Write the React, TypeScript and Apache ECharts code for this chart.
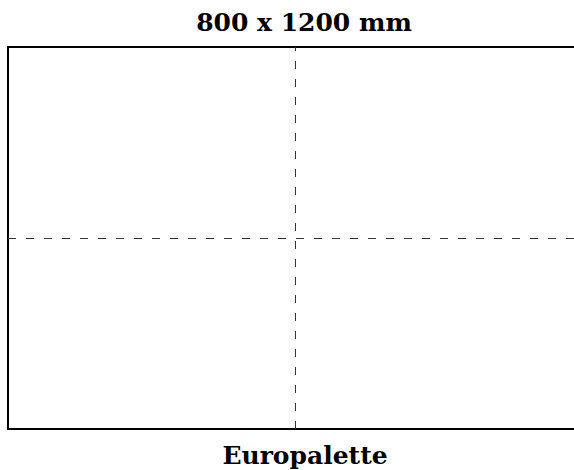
import React, { useEffect, useRef } from "react";
import * as echarts from "echarts";

const palletWidthMm = 800;
const palletLengthMm = 1200;
const palletName = "Europalette";
const dividerX = [600];
const dividerY = [400];

export default function App() {
  const ref = useRef<HTMLDivElement>(null);
  useEffect(() => {
    if (!ref.current) return;
    const chart = echarts.init(ref.current, null, { renderer: "svg" });
    const font = "'DejaVu Serif', serif";
    chart.setOption({
      animation: false,
      grid: {
        left: 8,
        top: 47,
        width: 574,
        height: 382,
        outerBoundsMode: "none",
        containLabel: false,
        show: true,
        borderColor: "#000",
        borderWidth: 2,
        backgroundColor: "transparent",
      },
      xAxis: {
        type: "value",
        min: 0,
        max: palletLengthMm,
        show: false,
      },
      yAxis: {
        type: "value",
        min: 0,
        max: palletWidthMm,
        show: false,
      },
      series: [
        {
          type: "line",
          data: [],
          silent: true,
          markLine: {
            silent: true,
            symbol: ["none", "none"],
            label: { show: false },
            lineStyle: { color: "#333", width: 1, type: [8, 10] },
            data: [
              ...dividerX.map((v) => ({ xAxis: v })),
              ...dividerY.map((v) => ({ yAxis: v })),
            ],
          },
        },
      ],
      graphic: [
        {
          type: "text",
          x: 304,
          y: 22,
          style: {
            text: `${palletWidthMm} x ${palletLengthMm} mm`,
            font: `bold 25px ${font}`,
            fill: "#000",
            align: "center",
            verticalAlign: "middle",
          },
        },
        {
          type: "text",
          x: 305,
          y: 455,
          style: {
            text: palletName,
            font: `bold 25px ${font}`,
            fill: "#000",
            align: "center",
            verticalAlign: "middle",
          },
        },
      ],
    });
    return () => chart.dispose();
  }, []);
  return (
    <div
      ref={ref}
      style={{ position: "absolute", left: 0, top: 0, width: 574, height: 470 }}
    />
  );
}
